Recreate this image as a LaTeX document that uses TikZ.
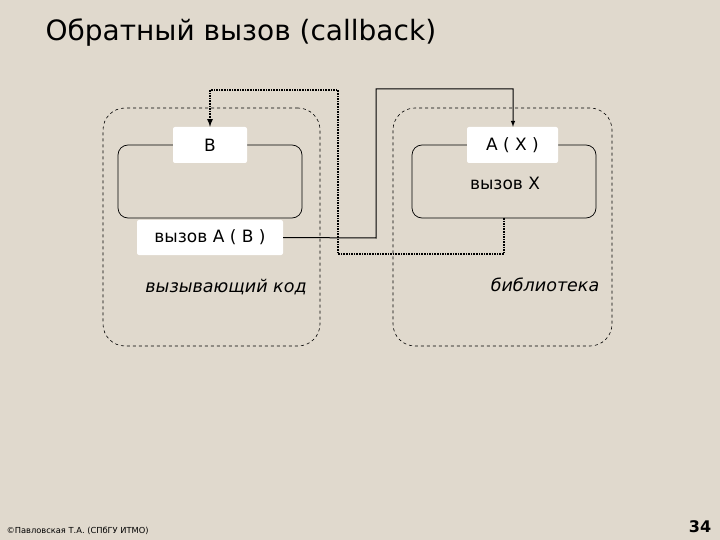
\documentclass[tikz,border=0pt]{standalone}
\usepackage{fontspec}
\setmainfont{DejaVu Sans}
\begin{document}
\begin{tikzpicture}[x=1pt,y=-1pt,
  outer/.style={draw,dashed,rounded corners=22pt,line width=0.6pt},
  inner/.style={draw,rounded corners=10pt,line width=0.7pt},
  lbl/.style={fill=white,rounded corners=2pt,inner sep=0pt,font=\fontsize{17}{19}\selectfont},
  conn/.style={line width=1pt,-latex},
  dconn/.style={line width=1.6pt,densely dotted,-latex}]
\definecolor{bg}{RGB}{224,217,205}
\fill[bg] (0,0) rectangle (720,540);
\useasboundingbox (0,0) rectangle (720,540);
\node[anchor=west,font=\fontsize{28}{32}\selectfont] (title) at (42,33) {Обратный вызов (callback)};
\node[outer,minimum width=217pt,minimum height=238pt] (lo) at (211.5,227) {};
\node[outer,minimum width=219pt,minimum height=238pt] (ro) at (502.5,227) {};
\node[inner,minimum width=184pt,minimum height=73pt] (li) at (210,181.5) {};
\node[inner,minimum width=184pt,minimum height=73pt] (ri) at (504,181.5) {};
\node[lbl,minimum width=74pt,minimum height=36pt] (b) at (210,145) {B};
\node[lbl,minimum width=91pt,minimum height=36pt] (ax) at (512.5,145) {A ( X )};
\node[lbl,minimum width=146pt,minimum height=35pt] (call) at (210,237.5) {вызов A ( B )};
\node[font=\fontsize{17}{19}\selectfont] (vx) at (505,183) {вызов X};
\node[font=\fontsize{17.5}{20}\selectfont\itshape] (caller) at (226,287) {вызывающий код};
\node[font=\fontsize{17.5}{20}\selectfont\itshape] (lib) at (545,285) {библиотека};
\draw[conn] (call.east) -- (376,238) -- (376,89) -- (513,89) -- (ax.north -| 513,0);
\draw[dconn] (504,218) -- (504,254) -- (338,254) -- (338,90) -- (210,90) -- (b.north);
\node[anchor=south west,font=\fontsize{8.3}{9}\selectfont] (copy) at (3,538) {©Павловская Т.А. (СПбГУ ИТМО)};
\node[font=\bfseries\fontsize{16}{18}\selectfont] (num) at (700,527) {34};
\end{tikzpicture}
\end{document}
